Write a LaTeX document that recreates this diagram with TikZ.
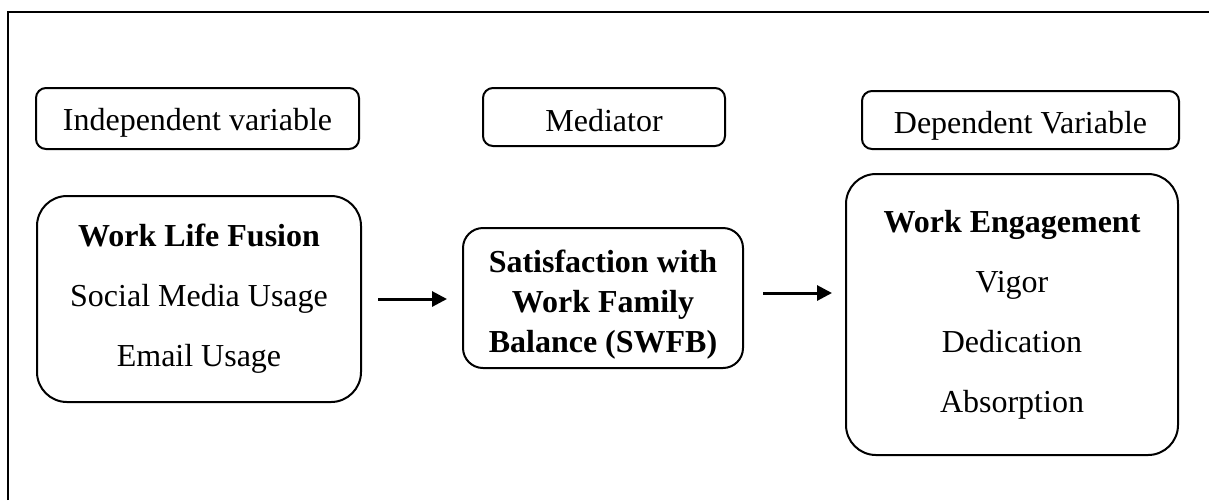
\documentclass[tikz,border=0pt]{standalone}
\usepackage{fontspec}
\setmainfont{Liberation Serif}
\usetikzlibrary{arrows.meta}
\tikzset{
  lbl/.style={draw, line width=1pt, rounded corners=5pt, inner sep=0pt, align=center,
    text depth=0pt, font=\fontsize{16}{20}\selectfont},
  bigbox/.style={draw, line width=1pt, rounded corners=15pt, inner sep=0pt, align=center,
    font=\fontsize{16}{30}\selectfont},
  midbox/.style={draw, line width=1pt, rounded corners=10pt, inner sep=0pt, align=center,
    font=\fontsize{16}{20}\selectfont\bfseries},
  flow/.style={line width=1.5pt, -{Triangle[length=7.5pt,width=7.5pt]}},
  frameline/.style={line width=1pt}
}
\begin{document}
\begin{tikzpicture}[x=0.5pt,y=-0.5pt]
\useasboundingbox (0,0) rectangle (1209,500);
\coordinate (fbl) at (8,500);
\coordinate (ftl) at (8,12);
\coordinate (ftr) at (1209,12);
\draw[frameline] (fbl) -- (ftl) -- (ftr);

\node[lbl, text height=11.5pt, minimum width=161.5pt, minimum height=30.5pt] (indep) at (197.5,118.5) {Independent variable};
\node[lbl, text height=14.5pt, minimum width=121pt, minimum height=29pt] (med) at (604,117) {Mediator};
\node[lbl, text height=13pt, minimum width=158.5pt, minimum height=29pt] (dep) at (1020.5,120) {Dependent Variable};

\node[bigbox, minimum width=162pt, minimum height=103pt] (wlf) at (199,299)
  {\textbf{Work Life Fusion}\\Social Media Usage\\Email Usage};
\node[midbox, minimum width=140pt, minimum height=70pt] (swfb) at (603,298)
  {\rule{0pt}{18pt}Satisfaction with\\Work Family\\Balance (SWFB)};
\node[bigbox, minimum width=166pt, minimum height=140.5pt] (we) at (1012,314.5)
  {\textbf{Work Engagement}\\Vigor\\Dedication\\Absorption};

\draw[flow, shorten <=8pt, shorten >=7.5pt] (wlf.east) -- (wlf.east -| swfb.west);
\draw[flow, shorten <=9.5pt, shorten >=6.5pt] ([yshift=2.5pt]swfb.east) -- ([yshift=2.5pt]swfb.east -| we.west);
\end{tikzpicture}
\end{document}
